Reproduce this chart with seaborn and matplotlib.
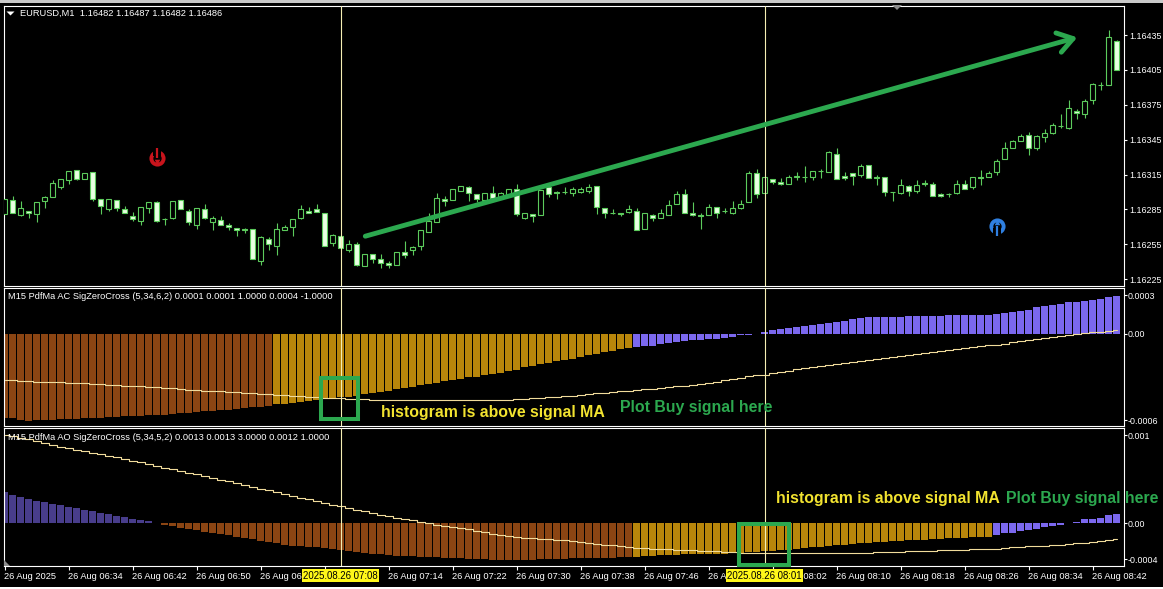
import numpy as np
import pandas as pd
import seaborn as sns
import matplotlib.pyplot as plt
from matplotlib.patches import Rectangle, Polygon

W, H = 1163, 589

# candles, in points above 1.16000
open_pts = [281,293,280,284,281,292,296,304,310,319,
            311,317,294,285,293,285,279,275,286,291,
            277,278,293,284,272,285,274,276,272,269,
            268,268,241,260,254,267,270,278,284,285,
            282,256,262,250,255,236,247,242,239,237,
            248,250,254,266,274,294,293,301,304,298,
            293,299,295,297,303,278,281,280,304,300,
            300,299,300,301,305,286,282,282,283,284,
            268,280,278,280,290,298,282,280,280,287,
            284,282,286,291,316,299,311,309,307,313,
            313,313,318,317,333,314,316,315,323,313,
            313,300,299,305,301,308,307,298,298,299,
            307,304,313,313,317,328,338,344,349,338,
            347,351,357,355,370,367,379,392,392,430]
high_pts = [294,297,292,284,291,297,310,311,318,319,
            316,317,294,294,293,288,283,287,291,292,
            278,292,293,285,286,290,279,279,273,269,
            269,268,262,261,273,272,277,289,287,290,
            282,264,262,259,257,247,247,247,241,248,
            258,254,267,282,299,297,303,305,305,298,
            299,305,300,303,307,282,281,302,306,301,
            304,304,304,307,305,286,285,282,289,286,
            282,281,285,293,301,303,291,282,290,287,
            286,292,293,318,320,313,311,312,315,317,
            322,318,320,335,338,317,316,324,323,315,
            313,300,311,306,310,310,309,299,299,310,
            310,313,319,318,328,343,345,350,352,349,
            354,359,367,379,371,380,394,395,439,431]
low_pts = [281,282,279,278,274,286,296,303,307,310,
           311,292,281,284,284,282,275,272,282,274,
           272,277,285,272,268,277,267,272,267,262,
           265,242,237,250,246,267,262,277,282,283,
           254,254,252,248,236,236,239,235,235,237,
           243,246,250,266,274,288,293,301,292,291,
           293,294,295,297,279,277,274,280,296,294,
           298,297,299,299,281,278,281,279,282,267,
           268,275,278,280,290,282,279,268,280,278,
           282,281,285,291,295,299,307,306,307,310,
           309,310,312,317,311,310,306,313,312,306,
           297,292,298,297,299,305,297,296,296,298,
           303,303,306,313,315,328,338,344,332,336,
           343,350,355,354,363,364,376,388,392,405]
close_pts = [294,282,286,282,291,296,308,311,318,311,
             316,294,288,294,286,282,277,287,291,275,
             277,292,285,274,286,278,278,272,270,267,
             267,242,261,255,268,270,277,285,282,283,
             254,263,252,255,237,247,242,239,237,248,
             246,253,267,275,295,292,303,305,299,294,
             299,295,299,303,281,282,279,302,298,299,
             300,303,303,304,287,282,282,281,285,267,
             282,278,282,289,298,282,280,279,287,282,
             284,286,290,316,298,313,309,307,313,314,
             313,318,318,334,311,312,314,322,312,312,
             300,300,306,301,306,307,297,297,298,307,
             303,313,312,316,327,338,344,348,338,348,
             351,358,357,372,368,378,393,392,433,405]

# indicator values, in units of 0.0001
ac_hist = [-5.82,-5.87,-5.96,-6.03,-5.98,-5.98,-5.96,-5.94,-5.92,-5.89,
           -5.87,-5.85,-5.82,-5.80,-5.78,-5.73,-5.71,-5.68,-5.66,-5.64,
           -5.62,-5.57,-5.52,-5.48,-5.43,-5.38,-5.34,-5.31,-5.27,-5.22,
           -5.18,-5.11,-5.06,-5.02,-4.90,-4.88,-4.79,-4.72,-4.65,-4.60,
           -4.53,-4.46,-4.42,-4.37,-4.32,-4.20,-4.11,-4.06,-3.97,-3.83,
           -3.78,-3.69,-3.57,-3.48,-3.39,-3.32,-3.23,-3.18,-3.04,-2.98,
           -2.88,-2.79,-2.72,-2.61,-2.51,-2.33,-2.24,-2.14,-2.03,-1.91,
           -1.85,-1.78,-1.61,-1.52,-1.43,-1.31,-1.22,-1.08,-1.01,-0.92,
           -0.88,-0.83,-0.74,-0.67,-0.62,-0.55,-0.48,-0.42,-0.37,-0.35,
           -0.30,-0.25,-0.09,-0.07,-0.05,0.09,0.21,0.28,0.35,0.48,
           0.55,0.62,0.69,0.76,0.83,0.90,0.97,1.04,1.11,1.11,
           1.11,1.11,1.15,1.18,1.18,1.18,1.18,1.18,1.25,1.25,
           1.25,1.25,1.25,1.25,1.38,1.45,1.52,1.59,1.66,1.80,
           1.87,1.94,2.01,2.15,2.21,2.28,2.35,2.42,2.56,2.63]
ac_signal = [-3.24,-3.24,-3.26,-3.28,-3.33,-3.33,-3.35,-3.38,-3.40,-3.40,
             -3.44,-3.49,-3.49,-3.56,-3.56,-3.61,-3.66,-3.66,-3.70,-3.72,
             -3.75,-3.79,-3.84,-3.89,-3.91,-3.95,-3.98,-4.01,-4.04,-4.07,
             -4.10,-4.14,-4.17,-4.21,-4.24,-4.28,-4.31,-4.35,-4.37,-4.39,
             -4.44,-4.49,-4.49,-4.50,-4.51,-4.55,-4.58,-4.60,-4.60,-4.60,
             -4.60,-4.60,-4.60,-4.60,-4.60,-4.60,-4.60,-4.60,-4.60,-4.60,
             -4.60,-4.60,-4.60,-4.60,-4.56,-4.52,-4.48,-4.43,-4.39,-4.36,
             -4.32,-4.29,-4.25,-4.20,-4.15,-4.10,-4.05,-4.00,-3.95,-3.91,
             -3.87,-3.83,-3.77,-3.71,-3.65,-3.60,-3.54,-3.48,-3.40,-3.33,
             -3.25,-3.16,-3.06,-2.97,-2.90,-2.84,-2.76,-2.67,-2.58,-2.49,
             -2.42,-2.35,-2.28,-2.21,-2.14,-2.07,-1.99,-1.92,-1.85,-1.78,
             -1.71,-1.65,-1.58,-1.51,-1.44,-1.38,-1.31,-1.24,-1.17,-1.10,
             -1.03,-0.96,-0.89,-0.82,-0.78,-0.70,-0.62,-0.53,-0.44,-0.38,
             -0.32,-0.25,-0.18,-0.12,-0.06,0.01,0.07,0.13,0.19,0.25]
ao_hist = [3.48,3.15,2.93,2.70,2.48,2.41,2.15,2.04,1.81,1.70,
           1.48,1.37,1.19,1.04,0.81,0.70,0.48,0.37,0.26,0.04,
           -0.19,-0.33,-0.52,-0.63,-0.74,-0.96,-1.07,-1.19,-1.33,-1.52,
           -1.63,-1.74,-1.96,-2.07,-2.19,-2.37,-2.48,-2.52,-2.63,-2.67,
           -2.78,-2.85,-2.96,-3.07,-3.19,-3.30,-3.41,-3.44,-3.52,-3.63,
           -3.63,-3.63,-3.70,-3.74,-3.78,-3.81,-3.85,-3.89,-3.96,-4.00,
           -4.00,-4.04,-4.04,-4.07,-4.07,-4.04,-4.04,-4.00,-4.00,-3.96,
           -3.93,-3.89,-3.89,-3.85,-3.85,-3.85,-3.81,-3.78,-3.74,-3.70,
           -3.63,-3.59,-3.56,-3.52,-3.52,-3.44,-3.44,-3.41,-3.41,-3.37,
           -3.37,-3.30,-3.30,-3.22,-3.19,-3.07,-3.04,-2.96,-2.96,-2.81,
           -2.74,-2.67,-2.59,-2.52,-2.41,-2.37,-2.30,-2.22,-2.15,-2.07,
           -2.04,-2.00,-1.96,-1.89,-1.85,-1.81,-1.78,-1.74,-1.67,-1.63,
           -1.59,-1.56,-1.52,-1.48,-1.30,-1.11,-1.04,-0.89,-0.74,-0.67,
           -0.41,-0.30,-0.19,0.04,0.19,0.44,0.52,0.63,0.89,1.00]
ao_signal = [9.81,9.67,9.52,9.37,9.19,8.96,8.74,8.52,8.33,8.15,
             8.00,7.81,7.67,7.48,7.33,7.15,6.96,6.78,6.56,6.33,
             6.15,6.00,5.81,5.63,5.44,5.26,5.07,4.85,4.67,4.48,
             4.26,4.07,3.85,3.67,3.44,3.26,3.04,2.85,2.67,2.44,
             2.26,2.04,1.89,1.70,1.52,1.33,1.15,0.96,0.78,0.59,
             0.48,0.33,0.19,0.04,-0.15,-0.30,-0.41,-0.56,-0.67,-0.85,
             -1.00,-1.15,-1.30,-1.41,-1.48,-1.59,-1.67,-1.74,-1.78,-1.85,
             -1.89,-1.96,-2.07,-2.19,-2.30,-2.37,-2.44,-2.56,-2.63,-2.70,
             -2.74,-2.81,-2.85,-2.89,-2.93,-2.96,-3.00,-3.04,-3.07,-3.11,
             -3.15,-3.19,-3.30,-3.33,-3.33,-3.33,-3.33,-3.33,-3.33,-3.33,
             -3.33,-3.33,-3.33,-3.33,-3.33,-3.33,-3.33,-3.33,-3.30,-3.22,
             -3.19,-3.19,-3.15,-3.11,-3.11,-3.07,-3.04,-3.00,-2.96,-2.96,
             -2.93,-2.89,-2.85,-2.81,-2.81,-2.74,-2.67,-2.63,-2.56,-2.52,
             -2.48,-2.41,-2.37,-2.30,-2.22,-2.19,-2.11,-2.00,-1.81,-1.74]
ac_state = ["down"] * 34 + ["up"] * 45 + ["rise"] * 61
ao_state = ["high"] * 20 + ["down"] * 59 + ["up"] * 45 + ["rise"] * 16

time_labels = ["26 Aug 2025", "26 Aug 06:34", "26 Aug 06:42", "26 Aug 06:50", "26 Aug 06:58",
               "26 Aug 07:06", "26 Aug 07:14", "26 Aug 07:22", "26 Aug 07:30", "26 Aug 07:38",
               "26 Aug 07:46", "26 Aug 07:54", "26 Aug 08:02", "26 Aug 08:10", "26 Aug 08:18",
               "26 Aug 08:26", "26 Aug 08:34", "26 Aug 08:42"]
price_ticks = [1.16435, 1.16405, 1.16375, 1.16345, 1.16315, 1.16285, 1.16255, 1.16225]
cross_bars = [42, 95]
cross_labels = ["2025.08.26 07:08", "2025.08.26 08:01"]

GREEN = "#2ca84f"
YELLOW = "#f2e330"
CANDLE = "#5ccb5c"
CANDLE_FILL = "#e9ffe3"
CROSS = "#f5efb4"
palette = {"down": "#8b4513", "up": "#b8860b", "rise": "#7b68ee", "high": "#483d8b"}

sns.set_theme(style="dark", rc={"axes.facecolor": "black", "figure.facecolor": "black"})
plt.rcParams["font.family"] = ["Liberation Sans", "DejaVu Sans"]

bars = np.arange(140)
opens = 1.16 + np.array(open_pts) / 1e5
highs = 1.16 + np.array(high_pts) / 1e5
lows = 1.16 + np.array(low_pts) / 1e5
closes = 1.16 + np.array(close_pts) / 1e5

fig = plt.figure(figsize=(W / 100, H / 100), dpi=100)


def fx(x):
    return x / W


def fy(y):
    return 1 - y / H


def pane(top, bottom):
    ax = fig.add_axes([fx(3.5), fy(bottom), fx(1124 - 3.5), (bottom - top) / H])
    ax.set_facecolor("black")
    ax.grid(False)
    return ax


ax1 = pane(5.5, 285.5)
ax2 = pane(288, 426)
ax3 = pane(428, 566)

# price candles
bear = closes < opens
ax1.vlines(bars, lows, highs, color=CANDLE, lw=0.8, zorder=2)
ax1.bar(bars, np.abs(closes - opens), bottom=np.minimum(opens, closes), width=0.56,
        color=np.where(bear, CANDLE_FILL, "black"), edgecolor=CANDLE, linewidth=0.8, zorder=3)
ax1.set_ylim(1.162196, 1.164604)

# indicator panes
for ax, hist, signal, state in [(ax2, ac_hist, ac_signal, ac_state), (ax3, ao_hist, ao_signal, ao_state)]:
    df = pd.DataFrame({"bar": bars, "hist": hist, "signal": signal, "state": state})
    sns.barplot(data=df, x="bar", y="hist", hue="state", palette=palette, dodge=False, width=0.76,
                saturation=1, linewidth=0, legend=False, ax=ax)
    sns.lineplot(data=df, x=df.index, y="signal", color="#f1dc9c", lw=0.8, drawstyle="steps-mid",
                 errorbar=None, ax=ax, zorder=4)
ax2.set_ylim(-6.40, 3.149)
ax3.set_ylim(-4.74, 10.59)

# signal markers
sell_bar, sell_price = [19], [1.16329]
buy_bar, buy_price = [124], [1.16271]
sns.scatterplot(x=sell_bar, y=sell_price, s=135, color="#c8141c", linewidth=0, ax=ax1, zorder=5)
ax1.scatter(sell_bar, sell_price, s=36, color="black", linewidth=0, zorder=6)
ax1.scatter(sell_bar, [1.16334], s=34, color="black", marker="s", linewidth=0, zorder=6)
ax1.vlines(sell_bar, 1.16329, 1.16338, color="#c8141c", lw=1.6, zorder=7)
ax1.scatter(sell_bar, [1.16326], s=16, color="#c8141c", marker="v", linewidth=0, zorder=7)
sns.scatterplot(x=buy_bar, y=buy_price, s=135, color="#2f7fe0", linewidth=0, ax=ax1, zorder=5)
ax1.scatter(buy_bar, buy_price, s=36, color="black", linewidth=0, zorder=6)
ax1.scatter(buy_bar, [1.16266], s=34, color="black", marker="s", linewidth=0, zorder=6)
ax1.vlines(buy_bar, 1.16262, 1.16271, color="#2f7fe0", lw=1.6, zorder=7)
ax1.scatter(buy_bar, [1.16274], s=16, color="#2f7fe0", marker="^", linewidth=0, zorder=7)

# hand-drawn trend arrow
ax1.annotate("", xy=(134.1, 1.16433), xytext=(45.1, 1.16262),
             arrowprops=dict(arrowstyle="->,head_length=0.9,head_width=0.6", color=GREEN, lw=3.5,
                             shrinkA=0, shrinkB=0), zorder=8)

# axes dressing
for ax in (ax1, ax2, ax3):
    ax.set_xlim(-1 / 8, (1124 - 4.5) / 8)
    ax.set_xlabel("")
    ax.set_ylabel("")
    ax.yaxis.tick_right()
    ax.tick_params(axis="y", colors="white", length=2.4, width=0.8, labelsize=6.4,
                   pad=1.4 if ax is ax1 else 0, left=False, right=True)
    ax.tick_params(axis="x", bottom=False, labelbottom=False)
    for sp in ax.spines.values():
        sp.set_color("white")
        sp.set_linewidth(0.8)
        sp.set_visible(True)
    for b in cross_bars:
        ax.axvline(b, color=CROSS, lw=0.8, zorder=6)

ax1.set_yticks(price_ticks)
ax1.set_yticklabels([f"{p:.5f}" for p in price_ticks])
ax2.set_yticks([2.66, 0, -6])
ax2.set_yticklabels(["0.0003", "0.00", "-0.0006"])
ax3.set_yticks([9.81, 0, -4])
ax3.set_yticklabels(["0.001", "0.00", "-0.0004"])

ax3.set_xticks(bars[::8])
ax3.set_xticklabels(time_labels, ha="left", fontsize=6.7, color="white")
ax3.tick_params(axis="x", bottom=True, labelbottom=True, colors="white", length=3, width=0.8, pad=1.5)

# crosshair time boxes
for b, lab in zip(cross_bars, cross_labels):
    ax3.text(b, -0.072, lab, transform=ax3.get_xaxis_transform(), ha="center", va="center",
             fontsize=6.9, color="black", clip_on=False, zorder=20,
             bbox=dict(boxstyle="square,pad=0.15", fc="#fff71a", ec="none"))

# green boxes drawn around the crossings
for x0, y0, x1, y1 in [(321, 378, 358, 419), (738.5, 524, 788.5, 565)]:
    fig.add_artist(Rectangle((fx(x0), fy(y1)), (x1 - x0) / W, (y1 - y0) / H, transform=fig.transFigure,
                             fc="none", ec=GREEN, lw=2.9, zorder=30))

# pane captions and notes
small = dict(color="white", fontsize=6.7, va="center", zorder=40)
fig.text(fx(19.5), fy(13.5), "EURUSD,M1  1.16482 1.16487 1.16482 1.16486", **small)
fig.text(fx(8), fy(296.5), "M15 PdfMa AC SigZeroCross (5,34,6,2) 0.0001 0.0001 1.0000 0.0004 -1.0000", **small)
fig.text(fx(8), fy(438), "M15 PdfMa AO SigZeroCross (5,34,5,2) 0.0013 0.0013 3.0000 0.0012 1.0000", **small)
note = dict(fontsize=11.4, fontweight="bold", va="center", zorder=40)
fig.text(fx(381), fy(413), "histogram is above signal MA", color=YELLOW, **note)
fig.text(fx(620), fy(407.5), "Plot Buy signal here", color=GREEN, **note)
fig.text(fx(776), fy(498.5), "histogram is above signal MA", color=YELLOW, **note)
fig.text(fx(1006), fy(498.5), "Plot Buy signal here", color=GREEN, **note)

# window chrome: grey top edge, white bottom edge, small triangles
fig.add_artist(Rectangle((0, fy(3)), 1, 3 / H, transform=fig.transFigure, fc="#c9c9c9", ec="none"))
fig.add_artist(Rectangle((0, 0), 1, 2.5 / H, transform=fig.transFigure, fc="white", ec="none"))
for pts, col in [([(892, 5), (902, 5), (897, 10)], "#8c8c8c"),
                 ([(6.5, 11.5), (14.5, 11.5), (10.5, 15.5)], "white"),
                 ([(4, 560), (4, 566), (10, 566)], "#8c8c8c")]:
    fig.add_artist(Polygon([(fx(x), fy(y)) for x, y in pts], transform=fig.transFigure, fc=col, ec="none", zorder=41))

fig.savefig("out.png", dpi=100, facecolor="black")
